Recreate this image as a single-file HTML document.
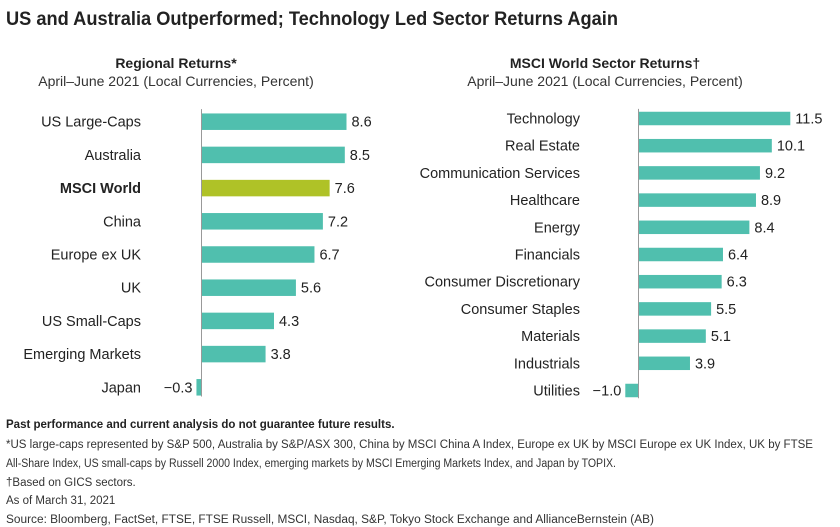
<!DOCTYPE html>
<html><head><meta charset="utf-8"><style>
html,body{margin:0;padding:0;background:#fff}
svg{display:block;font-family:"Liberation Sans",sans-serif}
</style></head><body>
<svg id="c" width="840" height="527" viewBox="0 0 840 527">
<text x="6" y="25" font-size="19" font-weight="bold" fill="#222" textLength="612" lengthAdjust="spacingAndGlyphs">US and Australia Outperformed; Technology Led Sector Returns Again</text>
<text x="176" y="68" font-size="14" font-weight="bold" fill="#222" text-anchor="middle">Regional Returns*</text>
<text x="176" y="86" font-size="14" fill="#333" text-anchor="middle">April–June 2021 (Local Currencies, Percent)</text>
<text x="605" y="68" font-size="14" font-weight="bold" fill="#222" text-anchor="middle">MSCI World Sector Returns†</text>
<text x="605" y="86" font-size="14" fill="#333" text-anchor="middle">April–June 2021 (Local Currencies, Percent)</text>
<g id="left"></g>
<g id="right"></g>
<g font-size="11.5" fill="#333">
<text x="6" y="428" font-weight="bold" fill="#222">Past performance and current analysis do not guarantee future results.</text>
<text x="6" y="448" textLength="807" lengthAdjust="spacingAndGlyphs">*US large-caps represented by S&amp;P 500, Australia by S&amp;P/ASX 300, China by MSCI China A Index, Europe ex UK by MSCI Europe ex UK Index, UK by FTSE</text>
<text x="6" y="467" textLength="610" lengthAdjust="spacingAndGlyphs">All-Share Index, US small-caps by Russell 2000 Index, emerging markets by MSCI Emerging Markets Index, and Japan by TOPIX.</text>
<text x="6" y="486">†Based on GICS sectors.</text>
<text x="6" y="504">As of March 31, 2021</text>
<text x="6" y="523" textLength="648" lengthAdjust="spacingAndGlyphs">Source: Bloomberg, FactSet, FTSE, FTSE Russell, MSCI, Nasdaq, S&amp;P, Tokyo Stock Exchange and AllianceBernstein (AB)</text>
</g>
</svg>
<script>
const regionCategories = ["US Large-Caps","Australia","MSCI World","China","Europe ex UK","UK","US Small-Caps","Emerging Markets","Japan"];
const regionValues = [8.6,8.5,7.6,7.2,6.7,5.6,4.3,3.8,-0.3];
const regionLabels = ["8.6","8.5","7.6","7.2","6.7","5.6","4.3","3.8","−0.3"];
const sectorCategories = ["Technology","Real Estate","Communication Services","Healthcare","Energy","Financials","Consumer Discretionary","Consumer Staples","Materials","Industrials","Utilities"];
const sectorValues = [11.5,10.1,9.2,8.9,8.4,6.4,6.3,5.5,5.1,3.9,-1.0];
const sectorLabels = ["11.5","10.1","9.2","8.9","8.4","6.4","6.3","5.5","5.1","3.9","−1.0"];
const NS="http://www.w3.org/2000/svg";
function mk(tag,attrs,parent){const e=document.createElementNS(NS,tag);for(const k in attrs)e.setAttribute(k,attrs[k]);parent.appendChild(e);return e;}
function draw(g,cats,vals,labs,o){
  const x=v=>o.zero+v*o.scale;
  const y=i=>o.y0+i*o.step;
  cats.forEach((c,i)=>{
    const v=vals[i],cy=y(i);
    const r=mk('rect',{x:Math.min(x(0),x(v)),y:cy-o.bh/2,width:Math.abs(x(v)-x(0)),height:o.bh,fill:(o.hl===i?'#AFC227':'#50BFAE')},g);
    
    
    const t=mk('text',{x:o.lx,y:cy+5,'font-size':14.5,'text-anchor':'end',fill:'#222','font-weight':(o.hl===i?'bold':'normal')},g);
    t.textContent=c;
    
    
    const vt=mk('text',{x:v>=0?x(v)+5:x(v)-4,y:cy+5,'font-size':14.5,'text-anchor':v>=0?'start':'end',fill:'#222'},g);
    vt.textContent=labs[i];
    
    
  });
  const ax=mk('line',{x1:x(0),x2:x(0),y1:y(0)-o.step/2+4,y2:y(cats.length-1)+o.bh/2+1,stroke:'#999','stroke-width':1},g);
  
  
}
draw(document.getElementById('left'),regionCategories,regionValues,regionLabels,{zero:201.5,scale:16.86,y0:121.7,step:33.2,bh:16.5,lx:141,hl:2});
draw(document.getElementById('right'),sectorCategories,sectorValues,sectorLabels,{zero:638.5,scale:13.2,y0:118.5,step:27.2,bh:13.5,lx:580,hl:-1});
</script>
</body></html>
